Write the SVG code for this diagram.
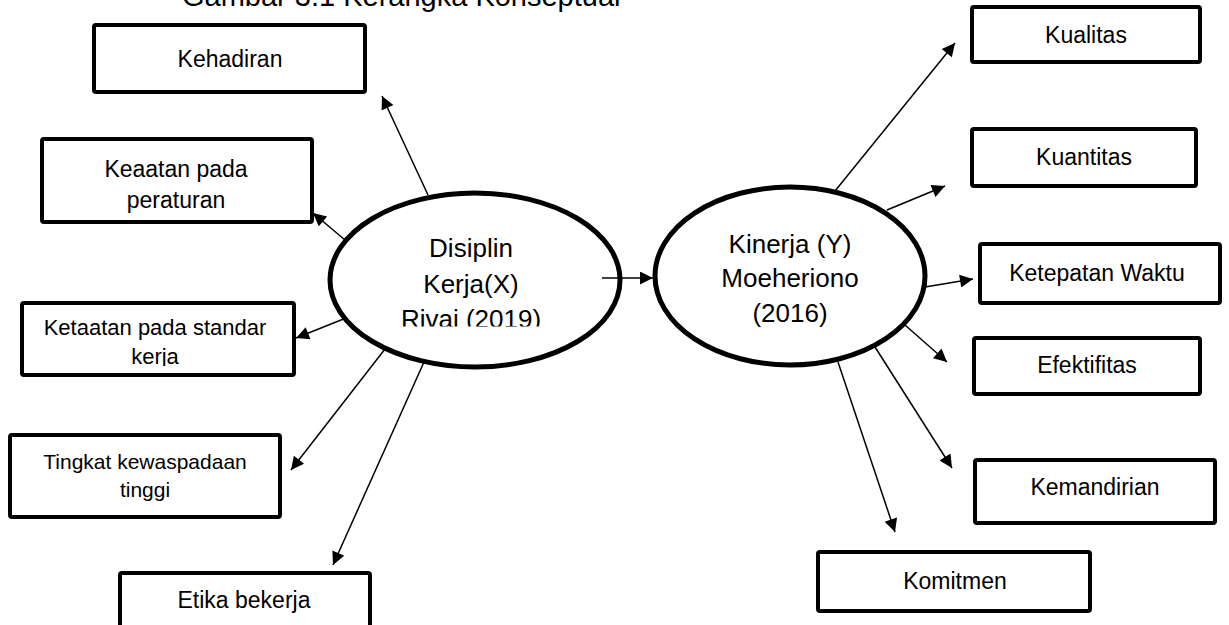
<svg xmlns="http://www.w3.org/2000/svg" width="1229" height="625" viewBox="0 0 1229 625">
<style>
.box{fill:#fff;stroke:#000;stroke-width:4;}
.ell{fill:#fff;stroke:#000;stroke-width:5;}
.t{font-family:"Liberation Sans",Arial,sans-serif;fill:#000;text-anchor:middle;}
.c{stroke:#000;stroke-width:1.5;fill:none;marker-end:url(#ah);}
</style>
<defs>
<marker id="ah" viewBox="0 0 10 10" refX="10" refY="5" markerUnits="userSpaceOnUse" markerWidth="16" markerHeight="13" orient="auto">
<path d="M0,0 L10,5 L0,10 z" fill="#000"/>
</marker>
<clipPath id="clipL"><rect x="330" y="190" width="290" height="136.5"/></clipPath>
<clipPath id="clipK"><rect x="22" y="302" width="272" height="64"/></clipPath>
</defs>
<rect width="1229" height="625" fill="#fff"/>
<text class="t" x="182" y="6" font-size="29" style="text-anchor:start">Gambar 3.1 Kerangka Konseptual</text>

<g id="disiplin">
<ellipse class="ell" cx="475" cy="280" rx="145" ry="87"/>
<g clip-path="url(#clipL)">
<text class="t" x="471" y="257" font-size="26">Disiplin</text>
<text class="t" x="471" y="293" font-size="26">Kerja(X)</text>
<text class="t" x="471" y="328" font-size="26">Rivai (2019)</text>
</g>
</g>

<g id="kinerja">
<ellipse class="ell" cx="790" cy="276" rx="135" ry="89"/>
<text class="t" x="790" y="253" font-size="26">Kinerja (Y)</text>
<text class="t" x="790" y="287" font-size="26">Moeheriono</text>
<text class="t" x="790" y="322" font-size="26">(2016)</text>
</g>

<g id="kehadiran">
<rect class="box" x="94" y="25" width="271" height="67" rx="2"/>
<text class="t" x="230" y="67" font-size="23">Kehadiran</text>
</g>
<g id="keaatan">
<rect class="box" x="42" y="139" width="270" height="83" rx="2"/>
<text class="t" x="176" y="177" font-size="23">Keaatan pada</text>
<text class="t" x="176" y="208" font-size="23">peraturan</text>
</g>
<g id="ketaatan">
<rect class="box" x="22" y="303" width="272" height="72" rx="2"/>
<text class="t" x="155" y="335" font-size="22">Ketaatan pada standar</text>
<text class="t" x="155" y="364" font-size="22" clip-path="url(#clipK)">kerja</text>
</g>
<g id="tingkat">
<rect class="box" x="10" y="435" width="270" height="82" rx="2"/>
<text class="t" x="145" y="469" font-size="21">Tingkat kewaspadaan</text>
<text class="t" x="145" y="497" font-size="21">tinggi</text>
</g>
<g id="etika">
<rect class="box" x="120" y="573" width="250" height="70" rx="2"/>
<text class="t" x="244" y="608" font-size="23">Etika bekerja</text>
</g>

<g id="kualitas">
<rect class="box" x="972" y="7" width="228" height="55" rx="2"/>
<text class="t" x="1086" y="43" font-size="23">Kualitas</text>
</g>
<g id="kuantitas">
<rect class="box" x="972" y="129" width="224" height="57" rx="2"/>
<text class="t" x="1084" y="165" font-size="23">Kuantitas</text>
</g>
<g id="ketepatan">
<rect class="box" x="980" y="244" width="240" height="59" rx="2"/>
<text class="t" x="1097" y="281" font-size="23">Ketepatan Waktu</text>
</g>
<g id="efektifitas">
<rect class="box" x="974" y="338" width="226" height="56" rx="2"/>
<text class="t" x="1087" y="373" font-size="23">Efektifitas</text>
</g>
<g id="kemandirian">
<rect class="box" x="975" y="460" width="240" height="63" rx="2"/>
<text class="t" x="1095" y="495" font-size="23">Kemandirian</text>
</g>
<g id="komitmen">
<rect class="box" x="818" y="552" width="272" height="59" rx="2"/>
<text class="t" x="955" y="589" font-size="23">Komitmen</text>
</g>

<g id="connectors">
<line class="c" x1="428" y1="195" x2="382" y2="96"/>
<line class="c" x1="345" y1="240" x2="313" y2="213"/>
<line class="c" x1="346" y1="318" x2="296" y2="338"/>
<line class="c" x1="385" y1="349" x2="291" y2="470"/>
<line class="c" x1="424" y1="362" x2="333" y2="565"/>
<line class="c" x1="602" y1="278" x2="653" y2="278"/>
<line class="c" x1="835" y1="191" x2="955" y2="43"/>
<line class="c" x1="887" y1="210" x2="945" y2="186"/>
<line class="c" x1="925" y1="287" x2="973" y2="279"/>
<line class="c" x1="905" y1="325" x2="947" y2="362"/>
<line class="c" x1="875" y1="347" x2="952" y2="468"/>
<line class="c" x1="838" y1="362" x2="895" y2="532"/>
</g>
</svg>
